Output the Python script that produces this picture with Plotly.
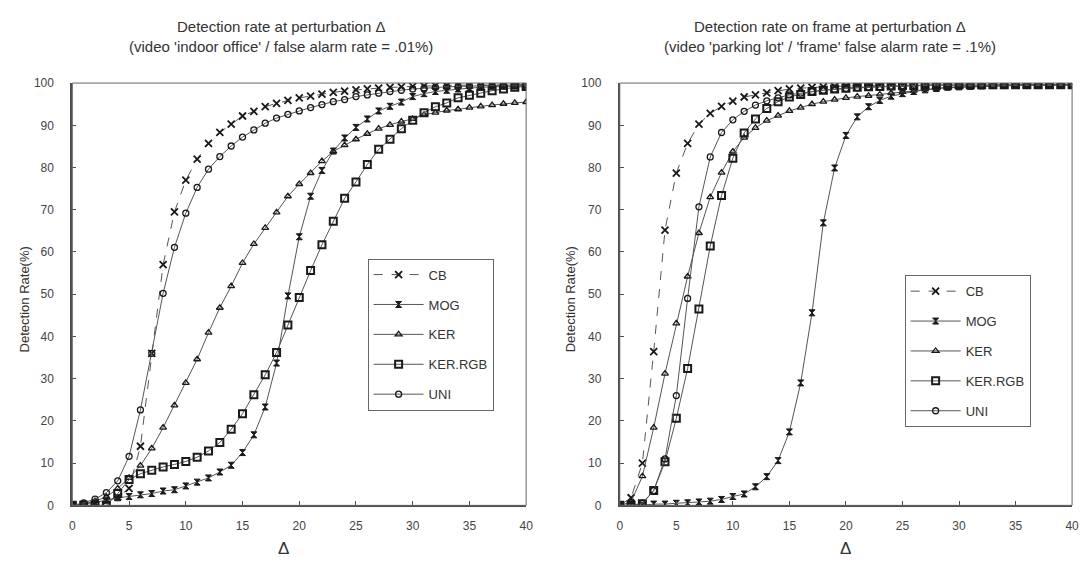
import plotly.graph_objects as go

delta = list(range(0, 41))

# ---- left chart: video 'indoor office' ----
cb_left = [0, 0, 0.5, 1, 2, 4, 14, 36, 57, 69.5, 77, 82, 85.7, 88.3, 90.3, 92.2, 93.3, 94.4, 95.2, 95.9,
           96.5, 96.9, 97.4, 97.8, 98.1, 98.4, 98.6, 98.8, 99, 99.1, 99.2, 99.3, 99.4, 99.4, 99.5, 99.5,
           99.5, 99.6, 99.6, 99.6, 99.6]
mog_left = [0, 0.3, 0.7, 1.2, 1.8, 2.1, 2.5, 2.8, 3.4, 3.7, 4.6, 5.5, 6.5, 7.9, 9.5, 12.5, 16.7, 23.3, 33.7,
            49.6, 63.6, 73.2, 79.3, 83.9, 87, 89.5, 91.5, 93.4, 94.5, 95.5, 96.8, 97.5, 98, 98.3, 98.6, 98.8,
            99, 99.1, 99.2, 99.3, 99.4]
ker_left = [0, 0.3, 1, 2, 4, 6.5, 9.4, 13.5, 18.4, 23.7, 29, 34.6, 40.9, 46.8, 51.9, 57.4, 61.9, 65.7, 69.4,
            73.2, 76.1, 78.7, 81.5, 83.8, 85.3, 86.7, 88, 89.2, 90.1, 90.9, 91.5, 92.5, 93, 93.5, 93.8, 94.2,
            94.5, 94.8, 95.1, 95.3, 95.5]
kerrgb_left = [0, 0, 0, 0, 2.8, 6.1, 7.5, 8.3, 9.1, 9.7, 10.4, 11.4, 12.9, 14.9, 18, 21.7, 26.2, 30.9, 36.2,
               42.7, 49.2, 55.6, 61.7, 67.3, 72.7, 76.6, 80.7, 84.3, 86.7, 89.2, 91.2, 93, 94.4, 95.3, 96.5,
               97.1, 97.6, 98.2, 98.6, 99, 99.2]
uni_left = [0, 0.6, 1.5, 3, 5.8, 11.6, 22.6, 36, 50.2, 61.1, 69.2, 75.3, 79.6, 82.6, 85.1, 87.2, 88.9, 90.5,
            91.7, 92.6, 93.4, 94.2, 94.9, 95.6, 96.1, 96.8, 97.2, 97.6, 98, 98.3, 98.6, 98.8, 99, 99.1, 99.2,
            99.3, 99.4, 99.5, 99.5, 99.5, 99.6]

# ---- right chart: video 'parking lot' ----
cb_right = [0, 1.8, 10, 36.4, 65.2, 78.7, 85.7, 90.3, 92.8, 94.5, 95.7, 96.7, 97.2, 97.7, 98.2, 98.6, 98.8,
            99, 99.1, 99.2, 99.3, 99.4, 99.4, 99.5, 99.5, 99.5, 99.6, 99.6, 99.6, 99.6, 99.6, 99.6, 99.6,
            99.6, 99.6, 99.6, 99.6, 99.6, 99.6, 99.6, 99.6]
mog_right = [0, 0, 0, 0.3, 0.3, 0.5, 0.6, 0.8, 1, 1.4, 2.1, 2.7, 4.4, 6.8, 10.6, 17.4, 29, 45.6, 66.9, 79.9,
             87.6, 92, 94.4, 95.9, 96.9, 97.5, 98, 98.4, 98.7, 99, 99.1, 99.2, 99.3, 99.4, 99.4, 99.5, 99.5,
             99.5, 99.5, 99.6, 99.6]
ker_right = [0, 0.8, 6.9, 18.4, 31.2, 43.1, 54.2, 64.5, 73, 78.8, 83.8, 87.1, 89.4, 91.1, 92.3, 93.4, 94.2,
             95, 95.6, 96.1, 96.5, 96.8, 97, 97.3, 97.6, 97.9, 98.2, 98.5, 98.7, 98.9, 99, 99.1, 99.2, 99.3,
             99.4, 99.4, 99.5, 99.5, 99.5, 99.5, 99.5]
kerrgb_right = [0, 0, 0.4, 3.5, 10.3, 20.6, 32.4, 46.5, 61.4, 73.4, 82.2, 88.2, 91.5, 94, 95.6, 96.7, 97.3,
                98, 98.3, 98.6, 98.8, 99, 99.1, 99.2, 99.3, 99.4, 99.4, 99.5, 99.5, 99.5, 99.6, 99.6, 99.6,
                99.6, 99.6, 99.6, 99.6, 99.6, 99.6, 99.6, 99.6]
uni_right = [0, 0, 0.5, 3.5, 11, 26, 49, 70.7, 82.5, 88.3, 91.3, 93.3, 94.8, 95.8, 96.5, 97.2, 97.6, 98, 98.3,
             98.5, 98.7, 98.9, 99, 99.1, 99.2, 99.3, 99.4, 99.4, 99.5, 99.5, 99.5, 99.5, 99.5, 99.5, 99.5,
             99.5, 99.5, 99.5, 99.5, 99.5, 99.5]

series_names = ["CB", "MOG", "KER", "KER.RGB", "UNI"]
x_ticks = [0, 5, 10, 15, 20, 25, 30, 35, 40]
y_ticks = [0, 10, 20, 30, 40, 50, 60, 70, 80, 90, 100]
title_left = ["Detection rate at perturbation \u0394",
              "(video 'indoor office' / false alarm rate = .01%)"]
title_right = ["Detection rate on frame at perturbation \u0394",
               "(video 'parking lot' / 'frame' false alarm rate = .1%)"]

FONT = "Arial, Liberation Sans, sans-serif"
LINE_C = "#555555"
MARK_C = "#1a1a1a"

styles = {
    "CB": dict(symbol="x-thin", size=7, dash="dash", mline=1.8),
    "MOG": dict(symbol="hourglass", size=6, dash="solid", mline=1.0),
    "KER": dict(symbol="triangle-up-open", size=6, dash="solid", mline=1.3),
    "KER.RGB": dict(symbol="square-open", size=7, dash="solid", mline=2.0),
    "UNI": dict(symbol="circle-open", size=6, dash="solid", mline=1.3),
}

fig = go.Figure()

left_data = [cb_left, mog_left, ker_left, kerrgb_left, uni_left]
right_data = [cb_right, mog_right, ker_right, kerrgb_right, uni_right]

for side, data, xa, ya, leg in [("L", left_data, "x", "y", "legend"), ("R", right_data, "x2", "y2", "legend2")]:
    for name, vals in zip(series_names, data):
        assert len(vals) == len(delta)
        s = styles[name]
        fig.add_trace(go.Scatter(
            x=delta, y=vals, name=name, mode="lines+markers",
            xaxis=xa, yaxis=ya, legend=leg, legendgroup=side + name,
            line=dict(color=LINE_C, width=1, dash=s["dash"]),
            marker=dict(symbol=s["symbol"], size=s["size"], color=MARK_C,
                        line=dict(color=MARK_C, width=s["mline"])),
        ))

W, H = 1088, 566
y_dom = [1 - 511 / H, 1 - 78 / H]
axis_common = dict(
    showgrid=False, zeroline=False, showline=True, linecolor="#4d4d4d", linewidth=2,
    ticks="inside", ticklen=4, tickcolor="#4d4d4d", tickwidth=1,
    tickfont=dict(family=FONT, size=12, color="#444444"),
)

leg_common = dict(
    bgcolor="white", bordercolor="#666666", borderwidth=1,
    font=dict(family=FONT, size=13, color="#333333"),
    traceorder="grouped", tracegroupgap=10, xanchor="left", yanchor="top",
    itemclick=False, itemwidth=50, entrywidth=88,
)

fig.update_layout(
    width=W, height=H, margin=dict(l=0, r=0, t=0, b=0),
    paper_bgcolor="white", plot_bgcolor="white",
    font=dict(family=FONT, color="#333333"),
    xaxis=dict(domain=[70 / W, 528 / W], range=[0, 40], tickvals=x_ticks, ticklabelstandoff=8,
               anchor="y", **axis_common),
    yaxis=dict(domain=y_dom, range=[0, 100], tickvals=y_ticks, ticklabelstandoff=14,
               anchor="x", **axis_common),
    xaxis2=dict(domain=[622.5 / W, 1079 / W], range=[0, 40], tickvals=x_ticks, ticklabelstandoff=8,
                anchor="y2", **axis_common),
    yaxis2=dict(domain=y_dom, range=[0, 100], tickvals=y_ticks, ticklabelstandoff=14,
                anchor="x2", **axis_common),
    legend=dict(x=368 / W, y=1 - 258 / H, **leg_common),
    legend2=dict(x=910 / W, y=1 - 275 / H, **leg_common),
    showlegend=True,
)

# thin top/right frame lines
for xr, yr in [("x domain", "y domain"), ("x2 domain", "y2 domain")]:
    fig.add_shape(type="rect", xref=xr, yref=yr, x0=0, x1=1, y0=0, y1=1,
                  line=dict(color="#666666", width=1), layer="above")

def ann(text, x, y, size, angle=0, color="#333333"):
    fig.add_annotation(text=text, x=x / W, y=1 - y / H, xref="paper", yref="paper",
                       showarrow=False, xanchor="center", yanchor="middle", textangle=angle,
                       font=dict(family=FONT, size=size, color=color))

ann(title_left[0], 281, 20, 15)
ann(title_left[1], 281, 41, 15)
ann(title_right[0], 835, 20, 15)
ann(title_right[1], 835, 41, 15)
ann("Detection Rate(%)", 22, 300, 13, angle=-90)
ann("Detection Rate(%)", 573, 300, 13, angle=-90)
ann("\u0394", 283, 555, 17)
ann("\u0394", 850, 555, 17)

fig.write_html("out.html", config={"displayModeBar": False},
               post_script="document.body.style.margin='0';document.body.style.overflow='hidden';")
